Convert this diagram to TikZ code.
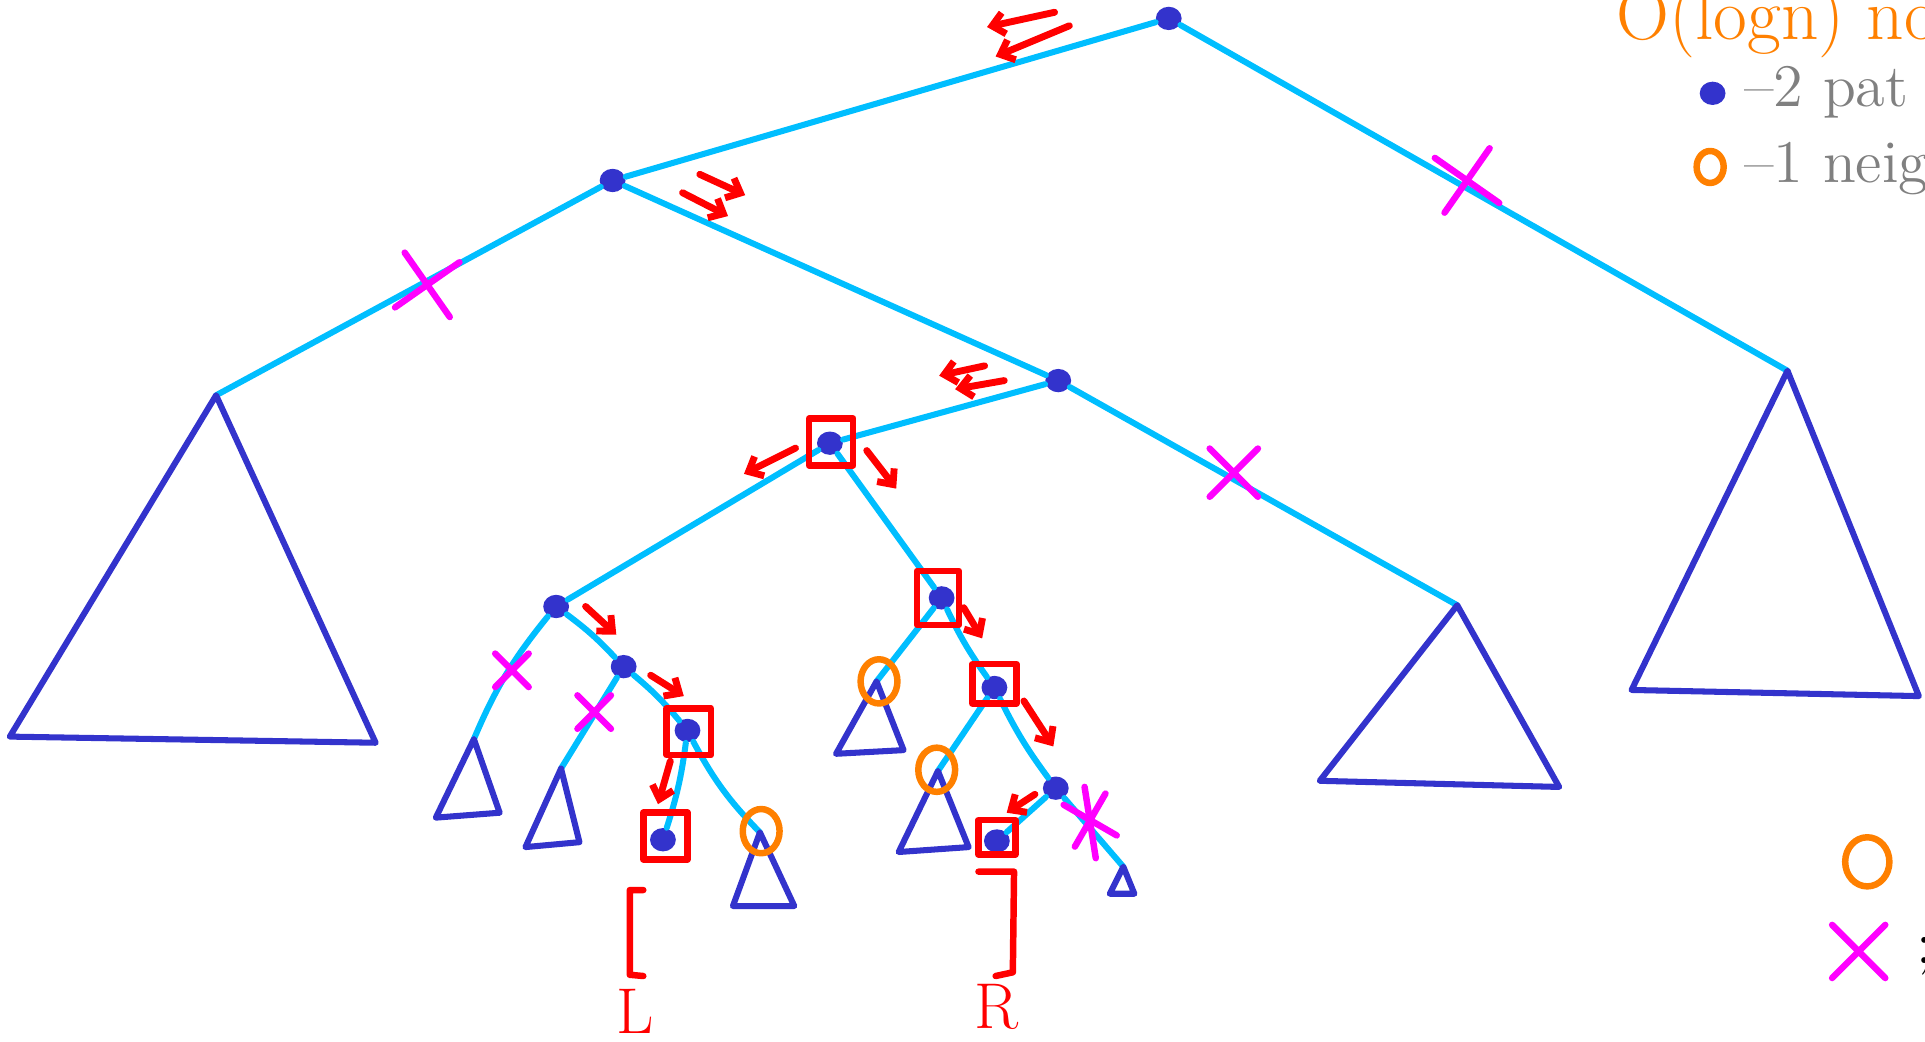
\documentclass[tikz,border=0pt]{standalone}
\usepackage{xcolor}
\usepackage{tikz}
\usetikzlibrary{arrows.meta, shapes.misc, shapes.geometric}

\definecolor{edgecyan}{RGB}{0,190,255}
\definecolor{dotblue}{RGB}{51,51,204}
\definecolor{markred}{RGB}{255,0,0}
\definecolor{crosspink}{RGB}{255,0,255}
\definecolor{ringorange}{RGB}{255,128,0}
\definecolor{notegray}{RGB}{128,128,128}

\begin{document}
\begin{tikzpicture}[
    x=0.01cm, y=-0.01cm,
    line cap=round, line join=round,
    dot/.style={
        ellipse,
        fill=dotblue,
        inner sep=0pt,
        minimum width=0.21cm,
        minimum height=0.19cm
    },
    link/.style={draw=edgecyan, line width=1.4pt},
    subtree/.style={draw=dotblue, line width=1.4pt},
    visited/.style={
        draw=markred,
        rectangle,
        line width=1.5pt,
        inner sep=0pt,
        minimum width=0.36cm,
        minimum height=0.38cm
    },
    cut/.style={draw=crosspink, cross out, line width=1.5pt, inner sep=0pt, minimum size=0.34cm},
    ring/.style={draw=ringorange, ellipse, line width=1.5pt, inner sep=0pt, minimum width=0.3cm, minimum height=0.36cm},
    walk/.style={draw=markred, line width=1.6pt, -{Straight Barb[length=2.8pt, width=5pt]}},
    bracket/.style={draw=markred, line width=1.5pt}
]
\clip (0,0) rectangle (1568,848);

% ===== Tree nodes =====
\node[dot] (root) at (952,15) {};
\node[dot] (A) at (499,147) {};
\node[dot] (B) at (862,310) {};
\node[dot] (C) at (676,361) {};
\node[dot] (D) at (453,494) {};
\node[dot] (E) at (767,487) {};
\node[dot] (F) at (508,543) {};
\node[dot] (G) at (560,595) {};
\node[dot] (H) at (540,684) {};
\node[dot] (J) at (810,560) {};
\node[dot] (K) at (860,642) {};
\node[dot] (M) at (812,685) {};

% ===== Subtree tops =====
\coordinate (T1) at (176,322);
\coordinate (T2) at (1456,302);
\coordinate (T3) at (1187,493);
\coordinate (t4) at (386,602);
\coordinate (t5) at (457,626);
\coordinate (t6) at (619,678);
\coordinate (t7) at (714,555);
\coordinate (t8) at (764,628);
\coordinate (t9) at (915,706);

% ===== Tree edges =====
\draw[link] (root) -- (A);
\draw[link] (root) -- (T2);
\draw[link] (A) -- (T1);
\draw[link] (A) -- (B);
\draw[link] (B) -- (C);
\draw[link] (B) -- (T3);
\draw[link] (C) -- (D);
\draw[link] (C) -- (E);
\draw[link] (D) to[bend right=8] (t4);
\draw[link] (D) to[bend left=5] (F);
\draw[link] (F) -- (t5);
\draw[link] (F) to[bend left=5] (G);
\draw[link] (G) to[bend left=5] (H);
\draw[link] (G) to[bend right=8] (t6);
\draw[link] (E) -- (t7);
\draw[link] (E) to[bend right=5] (J);
\draw[link] (J) -- (t8);
\draw[link] (J) to[bend right=5] (K);
\draw[link] (K) -- (M);
\draw[link] (K) -- (t9);

% ===== Subtrees =====
\draw[subtree] (T1) -- (8,600) -- (306,605) -- cycle;
\draw[subtree] (T2) -- (1329,562) -- (1563,567) -- cycle;
\draw[subtree] (T3) -- (1075,636) -- (1270,641) -- cycle;
\draw[subtree] (t4) -- (355,666) -- (407,662) -- cycle;
\draw[subtree] (t5) -- (428,690) -- (472,686) -- cycle;
\draw[subtree] (t6) -- (597,738) -- (647,738) -- cycle;
\draw[subtree] (t7) -- (681,614) -- (736,611) -- cycle;
\draw[subtree] (t8) -- (732,694) -- (789,690) -- cycle;
\draw[subtree] (t9) -- (904,728) -- (924,728) -- cycle;

% ===== Visited boxes =====
\node[visited] (Cbox) at (677,360) {};
\node[visited, minimum width=0.34cm, minimum height=0.44cm] (Ebox) at (764,487) {};
\node[visited] (Gbox) at (561,596) {};
\node[visited, minimum height=0.32cm] (Jbox) at (810,557) {};
\node[visited] (Hbox) at (542,681) {};
\node[visited, minimum width=0.3cm, minimum height=0.28cm] (Mbox) at (812,682) {};

% ===== Cut edges =====
\node[cut, minimum size=0.4cm, rotate=10] (cutR) at (1195,147) {};
\node[cut, minimum size=0.4cm, rotate=-10] (cutA) at (348,232) {};
\node[cut] (cutB) at (1005,385) {};
\node[cut, minimum size=0.22cm] (cutD) at (417,546) {};
\node[cut, minimum size=0.22cm] (cutF) at (484,580) {};
\node[cut, minimum size=0.3cm, rotate=15] (cutK) at (888,668) {};
\draw[crosspink, line width=1.5pt] ([yshift=0.1cm]cutK.north) -- ([yshift=-0.14cm]cutK.south);

% ===== Neighbour rings =====
\node[ring] (ringG) at (620,677) {};
\node[ring] (ringE) at (716,555) {};
\node[ring] (ringJ) at (763,627) {};

% ===== Search direction =====
\draw[walk] (859,10) -- (804,22);
\draw[walk] (871,21) -- (811,46);
\draw[walk] (570,142) -- (607,159);
\draw[walk] (556,157) -- (593,176);
\draw[walk] (802,298) -- (765,306);
\draw[walk] (818,310) -- (778,317);
\draw[walk] (648,365) -- (606,386);
\draw[walk] (706,367) -- (730,398);
\draw[walk] (477,494) -- (502,517);
\draw[walk] (530,550) -- (557,567);
\draw[walk] (546,620) -- (536,655);
\draw[walk] (785,495) -- (800,520);
\draw[walk] (834,571) -- (858,608);
\draw[walk] (843,647) -- (820,662);

% ===== Query range =====
\draw[bracket] (524,725) -- (513,725) -- (513,794) -- (524,795);
\draw[bracket] (797,710) -- (826,710) -- (825,792) -- (811,795);
\node[inner sep=0pt, text=markred, font=\fontsize{15}{17}\selectfont] (labL) at (517,824) {L};
\node[inner sep=0pt, text=markred, font=\fontsize{15}{17}\selectfont] (labR) at (812,820) {R};

% ===== Legend =====
\node[anchor=base west, inner sep=0pt, text=ringorange, font=\fontsize{17}{20}\selectfont] (cost) at (1316,32) {O(logn) no};
\node[dot] (keydot) at (1395,76) {};
\node[anchor=base west, inner sep=0pt, text=notegray, font=\fontsize{14}{16}\selectfont] (keypath) at (1420,87) {--2 pat};
\node[ring, minimum width=0.22cm, minimum height=0.26cm] (keyring) at (1393,136) {};
\node[anchor=base west, inner sep=0pt, text=notegray, font=\fontsize{14}{16}\selectfont] (keyneigh) at (1420,149) {--1 neig};

\node[ring, minimum width=0.36cm, minimum height=0.4cm] (legring) at (1521,702) {};
\node[anchor=west, inner sep=0pt, font=\fontsize{14}{16}\selectfont] (legringtxt) at (1564,708) {:};
\node[cut, minimum size=0.38cm] (legcut) at (1514,775) {};
\node[anchor=west, inner sep=0pt, font=\fontsize{14}{16}\selectfont] (legcuttxt) at (1560,779) {;};

\end{tikzpicture}
\end{document}
